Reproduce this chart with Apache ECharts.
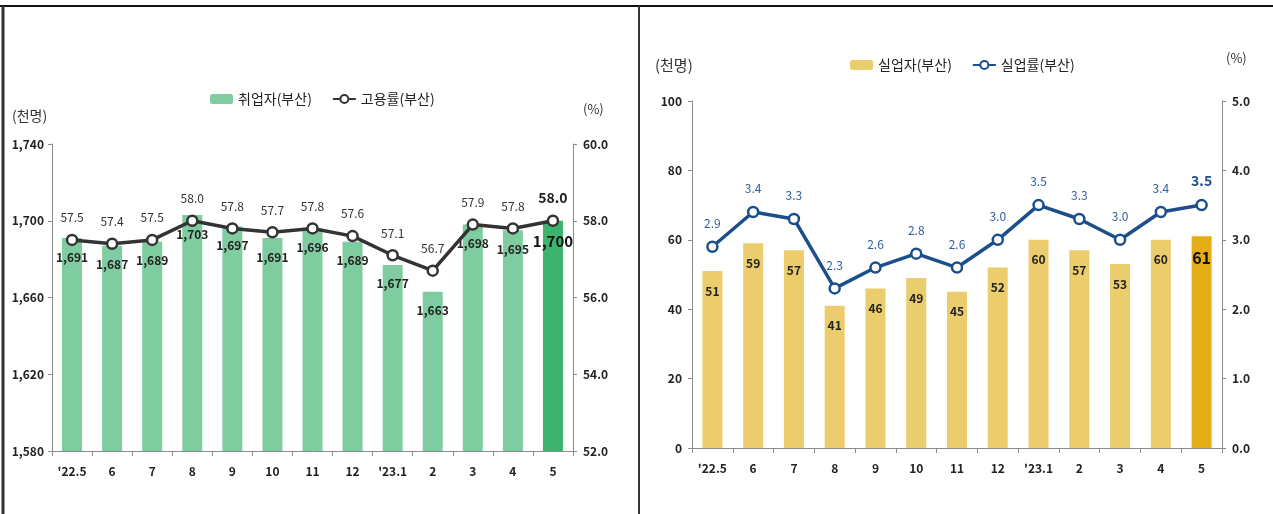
<!DOCTYPE html>
<html><head><meta charset="utf-8">
<script src="https://cdn.jsdelivr.net/npm/echarts@6/dist/echarts.min.js"></script>
<style>html,body{margin:0;padding:0;background:#fff}#c{width:1273px;height:514px}</style>
</head><body><div id="c"></div>
<script>
const categories = ["'22.5","6","7","8","9","10","11","12","'23.1","2","3","4","5"];
const employed = [1691,1687,1689,1703,1697,1691,1696,1689,1677,1663,1698,1695,1700];
const employmentRate = [57.5,57.4,57.5,58.0,57.8,57.7,57.8,57.6,57.1,56.7,57.9,57.8,58.0];
const unemployed = [51,59,57,41,46,49,45,52,60,57,53,60,61];
const unemploymentRate = [2.9,3.4,3.3,2.3,2.6,2.8,2.6,3.0,3.5,3.3,3.0,3.4,3.5];
const leftTicks = {min:1580,max:1740,interval:40};
const leftPctTicks = {min:52,max:60,interval:2};
const rightTicks = {min:0,max:100,interval:20};
const rightPctTicks = {min:0,max:5,interval:1};

const FONT = "'Noto Sans CJK KR', 'Noto Sans', sans-serif";
const last = categories.length - 1;
const comma = v => String(v).replace(/\B(?=(\d{3})+(?!\d))/g, ',');

const axisLineStyle = {lineStyle:{color:'#8c8c8c',width:1}};
const tickLbl = {color:'#222',fontFamily:FONT,fontSize:12,fontWeight:'bold'};

function barData(arr, c1, c2, big){
  return arr.map((v,i)=>({value:v,itemStyle:{color:i===last?c2:c1},
    label: i===last ? {fontSize:big,fontWeight:'bold',color:'#111'} : undefined}));
}
function lineData(arr, big, col){
  return arr.map((v,i)=>({value:v,
    label: i===last ? {fontSize:big,fontWeight:'bold',color:col} : undefined}));
}

const chart = echarts.init(document.getElementById('c'), null, {renderer:'canvas'});
chart.setOption({
  animation:false,
  backgroundColor:'#fff',
  textStyle:{fontFamily:FONT},
  legend:[
    {left:205,top:87,itemWidth:23,itemHeight:10,itemGap:20,
     textStyle:{fontFamily:FONT,fontSize:14,fontWeight:'normal',color:'#222'},
     data:['취업자(부산)','고용률(부산)']},
    {left:845,top:53,itemWidth:23,itemHeight:10,itemGap:20,
     textStyle:{fontFamily:FONT,fontSize:14,fontWeight:'normal',color:'#222'},
     data:['실업자(부산)','실업률(부산)']}
  ],
  grid:[
    {left:52,right:700,top:144,bottom:63},
    {left:692,right:51,top:101,bottom:66}
  ],
  xAxis:[
    {type:'category',gridIndex:0,data:categories,axisLine:axisLineStyle,
     axisTick:{show:true,length:5,lineStyle:{color:'#8c8c8c'}},
     axisLabel:Object.assign({margin:14},tickLbl)},
    {type:'category',gridIndex:1,data:categories,axisLine:axisLineStyle,
     axisTick:{show:true,length:5,lineStyle:{color:'#8c8c8c'}},
     axisLabel:Object.assign({margin:14},tickLbl)}
  ],
  yAxis:[
    {type:'value',gridIndex:0,min:leftTicks.min,max:leftTicks.max,interval:leftTicks.interval,
     axisLine:Object.assign({show:true},axisLineStyle),axisTick:{show:true,length:4,lineStyle:{color:'#8c8c8c'}},
     splitLine:{show:false},axisLabel:Object.assign({margin:8,formatter:v=>comma(v)},tickLbl)},
    {type:'value',gridIndex:0,position:'right',min:leftPctTicks.min,max:leftPctTicks.max,interval:leftPctTicks.interval,
     axisLine:Object.assign({show:true},axisLineStyle),axisTick:{show:true,length:4,lineStyle:{color:'#8c8c8c'}},
     splitLine:{show:false},axisLabel:Object.assign({margin:10,formatter:v=>v.toFixed(1)},tickLbl)},
    {type:'value',gridIndex:1,min:rightTicks.min,max:rightTicks.max,interval:rightTicks.interval,
     axisLine:Object.assign({show:true},axisLineStyle),axisTick:{show:true,length:4,lineStyle:{color:'#8c8c8c'}},
     splitLine:{show:false},axisLabel:Object.assign({margin:10},tickLbl)},
    {type:'value',gridIndex:1,position:'right',min:rightPctTicks.min,max:rightPctTicks.max,interval:rightPctTicks.interval,
     axisLine:Object.assign({show:true},axisLineStyle),axisTick:{show:true,length:4,lineStyle:{color:'#8c8c8c'}},
     splitLine:{show:false},axisLabel:Object.assign({margin:10,formatter:v=>v.toFixed(1)},tickLbl)}
  ],
  series:[
    {name:'취업자(부산)',type:'bar',xAxisIndex:0,yAxisIndex:0,barWidth:20,
     itemStyle:{color:'#80cca1'},
     label:{show:true,position:'insideTop',distance:13,formatter:p=>comma(p.value),
       fontFamily:FONT,fontSize:12,fontWeight:'bold',color:'#222'},
     data:barData(employed,'#80cca1','#3cb36e',15)},
    {name:'고용률(부산)',type:'line',xAxisIndex:0,yAxisIndex:1,
     symbol:'circle',symbolSize:10,
     lineStyle:{color:'#333',width:3.5},
     itemStyle:{color:'#fff',borderColor:'#333',borderWidth:2.5},
     label:{show:true,position:'top',distance:10,formatter:p=>p.value.toFixed(1),
       fontFamily:FONT,fontSize:12,color:'#333'},
     data:lineData(employmentRate,14,'#222'),z:5},
    {name:'실업자(부산)',type:'bar',xAxisIndex:1,yAxisIndex:2,barWidth:20,
     itemStyle:{color:'#ebcd6d'},
     label:{show:true,position:'insideTop',distance:14,
       fontFamily:FONT,fontSize:12,fontWeight:'bold',color:'#222'},
     data:barData(unemployed,'#ebcd6d','#e3ae17',16)},
    {name:'실업률(부산)',type:'line',xAxisIndex:1,yAxisIndex:3,
     symbol:'circle',symbolSize:10,
     lineStyle:{color:'#1b4f8c',width:3.5},
     itemStyle:{color:'#fff',borderColor:'#1b4f8c',borderWidth:2.5},
     label:{show:true,position:'top',distance:11,formatter:p=>p.value.toFixed(1),
       fontFamily:FONT,fontSize:12,color:'#2e5d9c'},
     data:lineData(unemploymentRate,14,'#1f4f8f'),z:5}
  ],
  graphic:[
    {type:'line',shape:{x1:0,y1:6,x2:1273,y2:6},style:{stroke:'#111',lineWidth:2},silent:true},
    {type:'line',shape:{x1:3,y1:6,x2:3,y2:514},style:{stroke:'#333',lineWidth:3},silent:true},
    {type:'line',shape:{x1:639,y1:6,x2:639,y2:514},style:{stroke:'#333',lineWidth:2},silent:true},
    {type:'text',left:12,top:109,style:{text:'(천명)',font:'normal 14px '+FONT,fill:'#333'}},
    {type:'text',left:583,top:103,style:{text:'(%)',font:'normal 13px '+FONT,fill:'#333'}},
    {type:'text',left:655,top:58,style:{text:'(천명)',font:'normal 15px '+FONT,fill:'#333'}},
    {type:'text',left:1226,top:52,style:{text:'(%)',font:'normal 13px '+FONT,fill:'#333'}}
  ]
});
</script></body></html>
